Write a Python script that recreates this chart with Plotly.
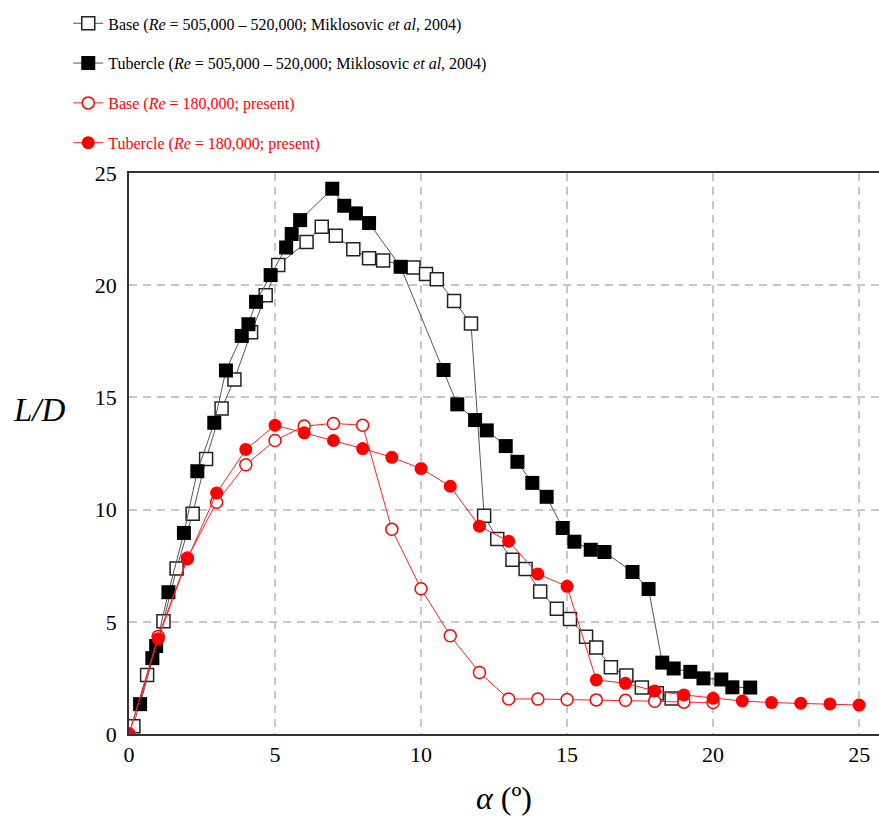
import plotly.graph_objects as go

# Base, Miklosovic et al 2004 (open squares)
base_m_x = [0.15, 0.62, 1.18, 1.63, 2.18, 2.64, 3.17, 3.61, 4.18, 4.68, 5.11, 6.08, 6.6, 7.08,
            7.68, 8.22, 8.7, 9.74, 10.17, 10.54, 11.13, 11.71, 12.16, 12.61, 13.13, 13.58,
            14.08, 14.65, 15.1, 15.65, 16.0, 16.5, 17.03, 17.56, 18.07, 18.58]
base_m_y = [0.35, 2.63, 5.03, 7.37, 9.82, 12.26, 14.5, 15.8, 17.9, 19.55, 20.9, 21.93, 22.6, 22.2,
            21.6, 21.2, 21.1, 20.79, 20.5, 20.27, 19.3, 18.29, 9.73, 8.69, 7.77, 7.35,
            6.35, 5.58, 5.12, 4.33, 3.85, 2.98, 2.61, 2.07, 1.82, 1.58]

# Tubercle, Miklosovic et al 2004 (filled squares)
tub_m_x = [0.38, 0.8, 0.93, 1.35, 1.88, 2.34, 2.92, 3.32, 3.86, 4.09, 4.35, 4.85, 5.38, 5.57,
           5.86, 6.96, 7.37, 7.77, 8.22, 9.3, 10.77, 11.24, 11.85, 12.25, 12.9, 13.3, 13.81,
           14.3, 14.85, 15.25, 15.81, 16.28, 17.24, 17.79, 18.26, 18.65, 19.22, 19.67, 20.28,
           20.66, 21.27]
tub_m_y = [1.33, 3.38, 3.92, 6.32, 8.96, 11.71, 13.87, 16.2, 17.74, 18.26, 19.26, 20.45, 21.68,
           22.28, 22.9, 24.3, 23.54, 23.2, 22.77, 20.82, 16.22, 14.69, 13.99, 13.53, 12.83,
           12.13, 11.19, 10.57, 9.18, 8.57, 8.21, 8.11, 7.22, 6.46, 3.18, 2.92, 2.77, 2.48,
           2.43, 2.08, 2.07]

# Base, present (open circles)
base_p_x = [0, 1, 2, 3, 4, 5, 6, 7, 8, 9, 10, 11, 12, 13, 14, 15, 16, 17, 18, 19, 20]
base_p_y = [0, 4.35, 7.84, 10.33, 12.0, 13.08, 13.72, 13.84, 13.76, 9.12, 6.47, 4.38, 2.74,
            1.56, 1.56, 1.54, 1.52, 1.5, 1.46, 1.42, 1.4]

# Tubercle, present (filled circles)
tub_p_x = [0, 1, 2, 3, 4, 5, 6, 7, 8, 9, 10, 11, 12, 13, 14, 15, 16, 17, 18, 19, 20, 21, 22,
           23, 24, 25]
tub_p_y = [0, 4.24, 7.8, 10.74, 12.68, 13.76, 13.42, 13.08, 12.72, 12.33, 11.83, 11.04, 9.26,
           8.59, 7.13, 6.58, 2.41, 2.26, 1.92, 1.74, 1.59, 1.47, 1.40, 1.37, 1.34, 1.29]

x_ticks = [0, 5, 10, 15, 20, 25]
y_ticks = [0, 5, 10, 15, 20, 25]

names = [
    "Base (<i>Re</i> = 505,000 – 520,000; Miklosovic <i>et al</i>, 2004)",
    "Tubercle (<i>Re</i> = 505,000 – 520,000; Miklosovic <i>et al</i>, 2004)",
    "<span style='color:#ff0000'>Base (<i>Re</i> = 180,000; present)</span>",
    "<span style='color:#ff0000'>Tubercle (<i>Re</i> = 180,000; present)</span>",
]

fig = go.Figure()
fig.add_trace(go.Scatter(
    x=base_m_x, y=base_m_y, mode="lines+markers", name=names[0], legendgroup="a",
    line=dict(color="#555555", width=1),
    marker=dict(symbol="square", size=13, color="white", line=dict(color="#222222", width=1.5)),
))
fig.add_trace(go.Scatter(
    x=tub_m_x, y=tub_m_y, mode="lines+markers", name=names[1], legendgroup="b",
    line=dict(color="#555555", width=1),
    marker=dict(symbol="square", size=14, color="black", line=dict(color="black", width=0)),
))
fig.add_trace(go.Scatter(
    x=base_p_x, y=base_p_y, mode="lines+markers", name=names[2], legendgroup="c",
    line=dict(color="#ff2020", width=1),
    marker=dict(symbol="circle", size=12, color="white", line=dict(color="#ff0000", width=1.5)),
))
fig.add_trace(go.Scatter(
    x=tub_p_x, y=tub_p_y, mode="lines+markers", name=names[3], legendgroup="d",
    line=dict(color="#ff2020", width=1),
    marker=dict(symbol="circle", size=13, color="#ff0000", line=dict(color="#ff0000", width=0)),
))

font_family = "Liberation Serif"

fig.update_layout(
    width=879, height=821,
    margin=dict(l=129, r=0, t=173, b=87),
    paper_bgcolor="white", plot_bgcolor="white",
    font=dict(family=font_family, size=22, color="black"),
    showlegend=True,
    legend=dict(
        x=-0.081, y=1.297, xanchor="left", yanchor="top",
        font=dict(family=font_family, size=16, color="black"),
        bgcolor="rgba(0,0,0,0)", borderwidth=0,
        tracegroupgap=16, itemwidth=30,
    ),
    xaxis=dict(
        range=[0, 25.68], tickvals=x_ticks, ticktext=[str(v) for v in x_ticks],
        showgrid=True, gridcolor="#c8c8c8", gridwidth=1.5, griddash="8px,6px",
        showline=True, linecolor="#333333", linewidth=1.5, mirror=True,
        ticks="", zeroline=False,
        tickfont=dict(family=font_family, size=22),
        title=dict(text="<i>α</i> (º)", font=dict(family=font_family, size=32), standoff=20),
    ),
    yaxis=dict(
        range=[0, 25], tickvals=y_ticks, ticktext=[str(v) for v in y_ticks],
        showgrid=True, gridcolor="#c8c8c8", gridwidth=1.5, griddash="8px,6px",
        showline=True, linecolor="#333333", linewidth=1.5, mirror=False,
        ticks="", zeroline=False, ticklabelstandoff=6,
        tickfont=dict(family=font_family, size=22),
    ),
    annotations=[dict(
        text="<i>L/D</i>", x=(39 - 129) / 750, y=(734 - 410) / 561,
        xref="paper", yref="paper", xanchor="center", yanchor="middle",
        showarrow=False, font=dict(family=font_family, size=33),
    )],
)

fig.write_html("out.html")
